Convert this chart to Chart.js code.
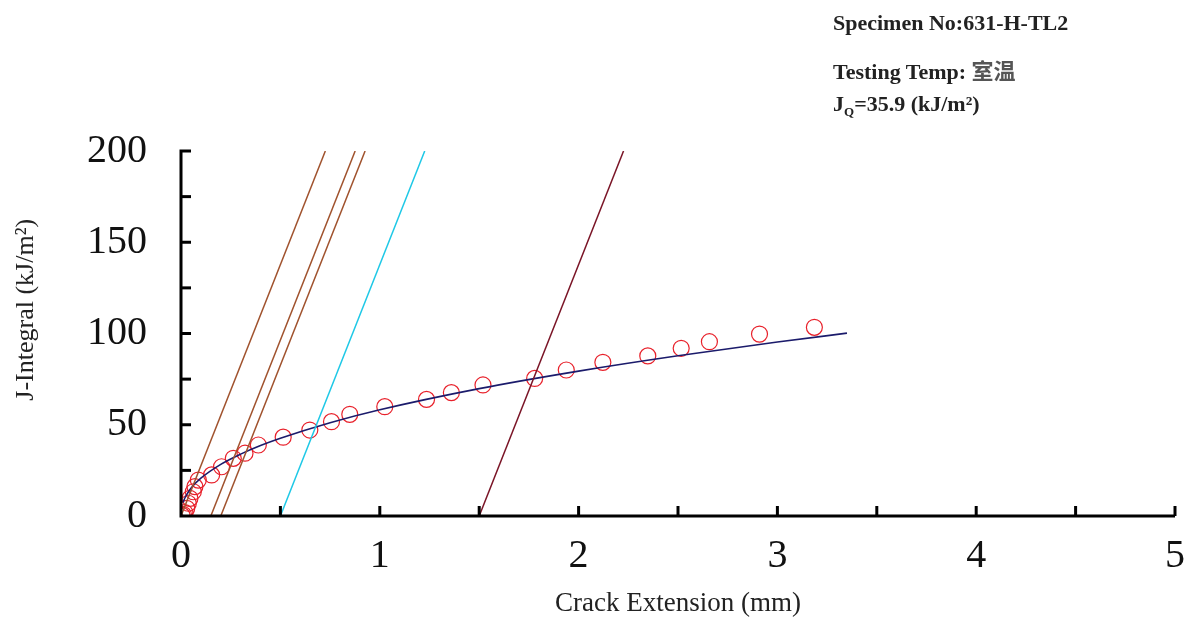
<!DOCTYPE html>
<html>
<head>
<meta charset="utf-8">
<script src="https://cdn.jsdelivr.net/npm/chart.js@4.4.1/dist/chart.umd.min.js"></script>
<style>
  body { margin: 0; background: #fff; }
  #wrap { position: relative; width: 1192px; height: 620px; }
  .note { position: absolute; left: 833px; font: bold 22px "Liberation Serif", "Noto Sans CJK SC", serif; color: #222; white-space: nowrap; }
</style>
</head>
<body>
<div id="wrap">
  <canvas id="chart" width="1192" height="620"></canvas>
  <div class="note" style="top:10px">Specimen No:631-H-TL2</div>
  <div class="note" style="top:53px">Testing Temp: <span style="color:#555">室温</span></div>
  <div class="note" style="top:91px">J<sub style="font-size:13px">Q</sub>=35.9 (kJ/m²)</div>
</div>
<script>
// measured J-R points (crack extension mm, J kJ/m2)
const crackExt = [0.005, 0.012, 0.020, 0.029, 0.037, 0.045, 0.062, 0.070, 0.087, 0.154, 0.204, 0.263, 0.322, 0.389,
  0.514, 0.648, 0.757, 0.849, 1.025, 1.235, 1.360, 1.519, 1.779, 1.938, 2.122, 2.348, 2.516, 2.658, 2.910, 3.186];
const jValues = [0.3, 0.8, 1.8, 4.2, 7.0, 9.7, 13.3, 16.1, 19.7, 22.5, 27.0, 31.6, 34.4, 38.9,
  43.2, 47.1, 51.7, 55.7, 59.9, 63.9, 67.6, 71.8, 75.4, 80.0, 84.2, 87.7, 91.9, 95.5, 99.7, 103.4];

// power-law fit curve
const fitX = [0.01, 0.02, 0.05, 0.1, 0.2, 0.3, 0.4, 0.5, 0.75, 1, 1.5, 2, 2.5, 3, 3.35];
const fitJ = [7.4, 10.0, 15.2, 20.7, 28.3, 33.9, 38.6, 42.6, 51.1, 58.2, 69.8, 79.4, 87.8, 95.3, 100.2];

// blunting / exclusion / offset lines: start at J=0, end at J=200
const lineStartX = [0, 0.15, 0.2, 0.5, 1.5];
const lineEndX = [0.726, 0.876, 0.926, 1.226, 2.226];
const lineColors = ['#A0522D', '#A0522D', '#A0522D', '#1EC8E6', '#7A1426'];

const xTicks = [0, 1, 2, 3, 4, 5];
const yTicks = [0, 50, 100, 150, 200];
const yTitle = 'J-Integral (kJ/m²)';

const serif = '"Liberation Serif", "Times New Roman", serif';

const datasets = [];
lineStartX.forEach((x0, i) => {
  datasets.push({
    type: 'line',
    data: [{x: x0, y: 0}, {x: lineEndX[i], y: 200}],
    borderColor: lineColors[i],
    borderWidth: 1.5,
    pointRadius: 0,
    fill: false
  });
});
datasets.push({
  type: 'line',
  data: fitX.map((x, i) => ({x: x, y: fitJ[i]})),
  borderColor: '#1B1B6B',
  borderWidth: 1.6,
  pointRadius: 0,
  cubicInterpolationMode: 'monotone',
  fill: false
});
datasets.push({
  type: 'scatter',
  data: crackExt.map((x, i) => ({x: x, y: jValues[i]})),
  borderColor: '#E8202A',
  backgroundColor: 'rgba(0,0,0,0)',
  borderWidth: 1.2,
  pointRadius: 8,
  pointHoverRadius: 8
});

// axis lines with inward ticks, plus the y title (sits a bit above centre in the original)
const axisPlugin = {
  id: 'axisPlugin',
  afterDraw(chart) {
    const ctx = chart.ctx;
    const xs = chart.scales.x, ys = chart.scales.y;
    const x0 = xs.getPixelForValue(0), x5 = xs.getPixelForValue(5);
    const y0 = ys.getPixelForValue(0), y200 = ys.getPixelForValue(200);
    ctx.save();
    ctx.strokeStyle = '#000';
    ctx.lineWidth = 3;
    ctx.beginPath();
    ctx.moveTo(x0 + 10, y200);
    ctx.lineTo(x0, y200);
    ctx.lineTo(x0, y0);
    ctx.lineTo(x5, y0);
    ctx.stroke();
    for (let v = 25; v < 200; v += 25) {
      const p = ys.getPixelForValue(v);
      ctx.beginPath(); ctx.moveTo(x0, p); ctx.lineTo(x0 + 10, p); ctx.stroke();
    }
    for (let v = 0.5; v <= 5; v += 0.5) {
      const p = xs.getPixelForValue(v);
      ctx.beginPath(); ctx.moveTo(p, y0); ctx.lineTo(p, y0 - 10); ctx.stroke();
    }
    ctx.translate(26, ys.getPixelForValue(113));
    ctx.rotate(-Math.PI / 2);
    ctx.fillStyle = '#222';
    ctx.font = '26px ' + serif;
    ctx.textAlign = 'center';
    ctx.textBaseline = 'middle';
    ctx.fillText(yTitle, 0, 0);
    ctx.restore();
  }
};

new Chart(document.getElementById('chart').getContext('2d'), {
  data: { datasets: datasets },
  options: {
    responsive: false,
    animation: false,
    layout: { padding: { top: 151, right: 17, left: 0, bottom: 0 } },
    plugins: { legend: { display: false }, tooltip: { enabled: false } },
    scales: {
      x: {
        type: 'linear', min: 0, max: 5,
        afterFit: s => { s.height = 104; s.paddingRight = 0; s.paddingLeft = 0; },
        afterBuildTicks: s => { s.ticks = xTicks.map(v => ({value: v})); },
        grid: { display: false, drawTicks: false },
        border: { display: false },
        ticks: { color: '#111', padding: 16, font: { family: serif, size: 40 } },
        title: { display: true, text: 'Crack Extension (mm)', color: '#222', padding: { top: 0, bottom: 0 }, font: { family: serif, size: 27 } }
      },
      y: {
        type: 'linear', min: 0, max: 200,
        afterFit: s => { s.width = 181; s.paddingTop = 0; s.paddingBottom = 0; },
        afterBuildTicks: s => { s.ticks = yTicks.map(v => ({value: v})); },
        grid: { display: false, drawTicks: false },
        border: { display: false },
        ticks: { color: '#111', padding: 34, font: { family: serif, size: 40 } },
        title: { display: false }
      }
    }
  },
  plugins: [axisPlugin]
});
</script>
</body>
</html>
